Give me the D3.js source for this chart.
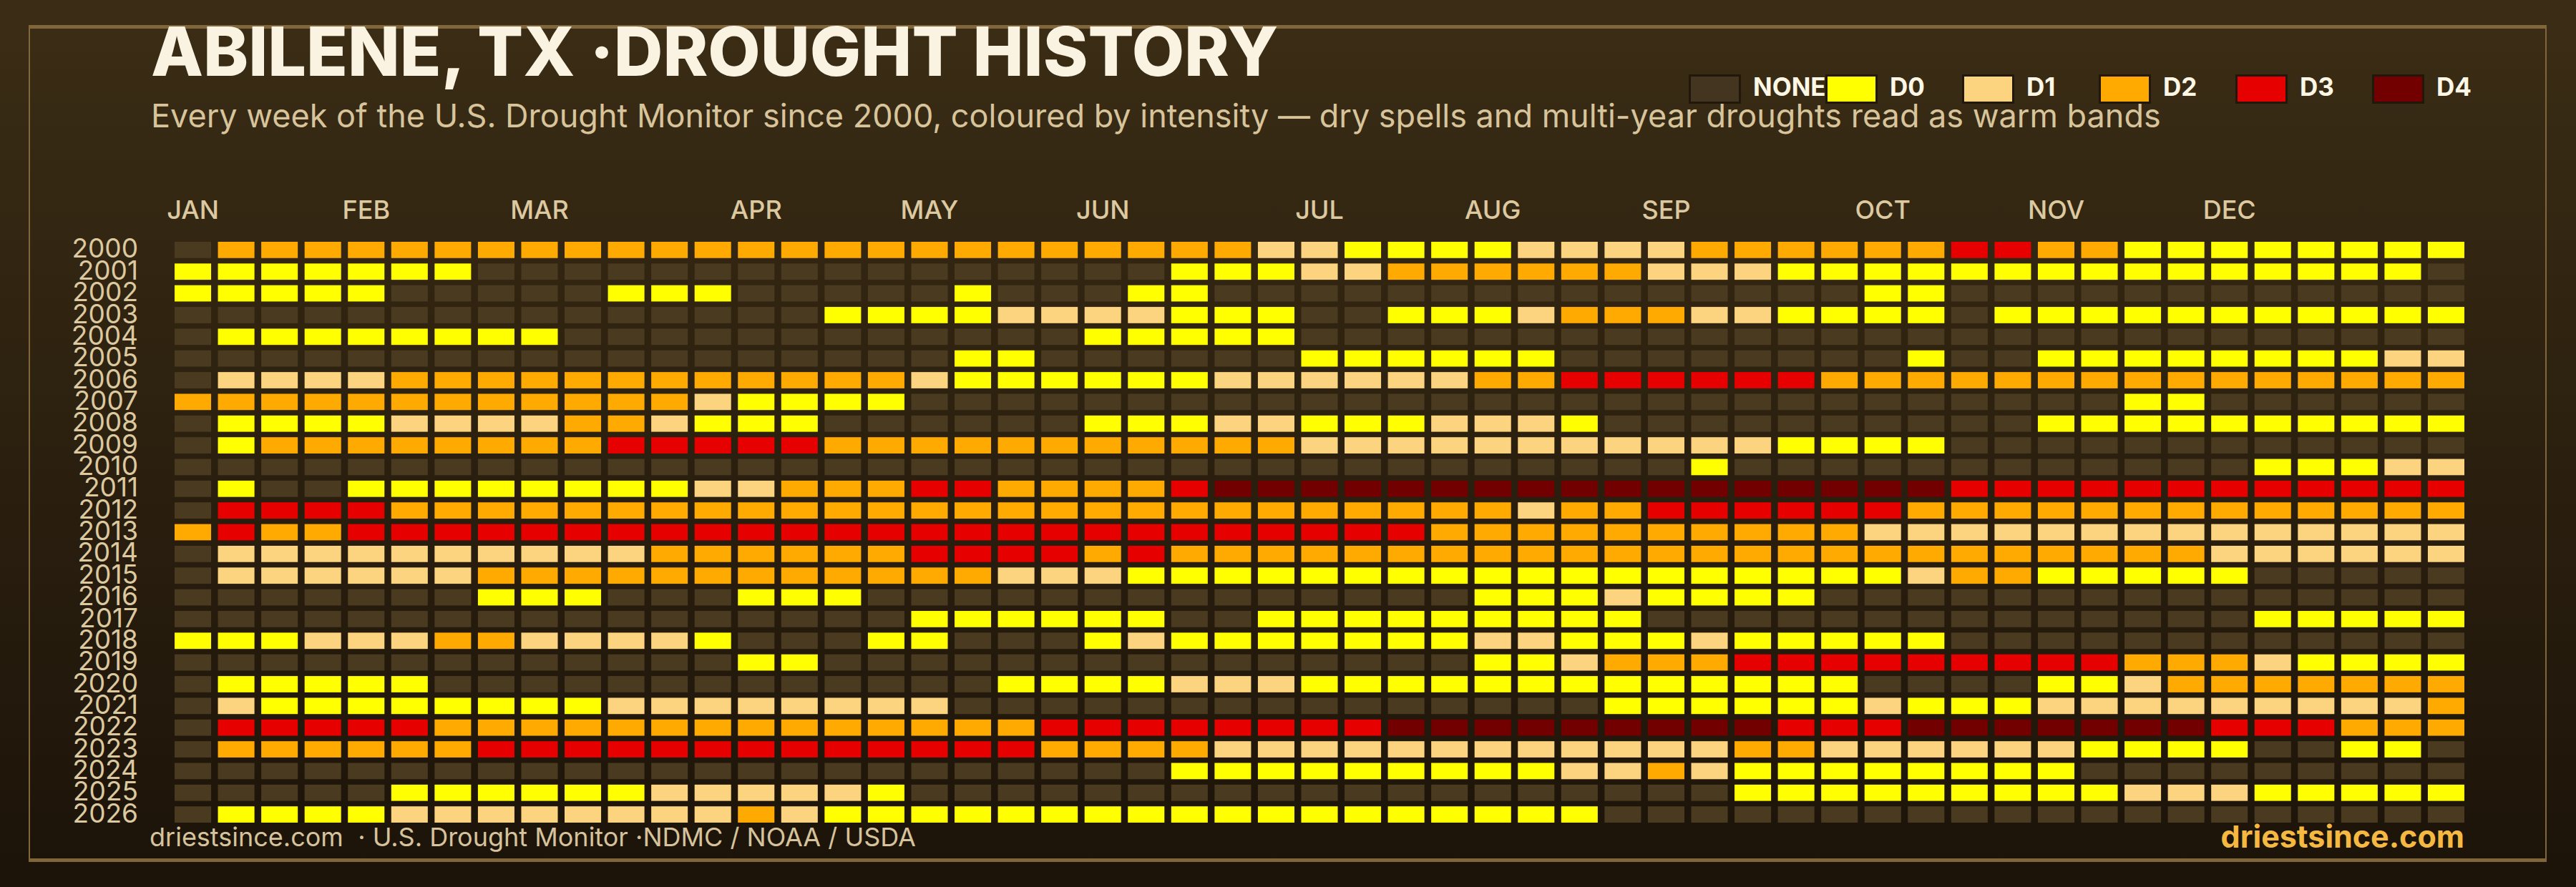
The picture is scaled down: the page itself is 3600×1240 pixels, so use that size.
<!DOCTYPE html>
<html><head><meta charset="utf-8">
<script src="https://cdn.jsdelivr.net/npm/d3@7"></script>
<style>
html,body{margin:0;padding:0;background:#2a1f0f;}
svg{display:block;}
text{font-family:Inter,"Noto Sans",sans-serif;}
</style>
</head><body>
<svg id="chart" width="3600" height="1240"></svg>
<script>
// ---------- data ----------
const years = [2000,2001,2002,2003,2004,2005,2006,2007,2008,2009,2010,2011,2012,2013,
               2014,2015,2016,2017,2018,2019,2020,2021,2022,2023,2024,2025,2026];
const monthNames = ["JAN","FEB","MAR","APR","MAY","JUN","JUL","AUG","SEP","OCT","NOV","DEC"];
const monthStartWeek = [0,4,8,13,17,21,26,30,34,39,43,47];
const levelKeys = ["NONE","D0","D1","D2","D3","D4"];
// one string per year, one character per weekly map: "." = none, 0..4 = D0..D4
const weekCodes = [
  ".222222222 2222222222 2222211000 0111122222 2332200000 000", // 2000
  "0000000... .......... ...0001122 2222111000 0000000000 00.", // 2001
  "00000..... 000.....0. ..00...... .........0 0......... ...", // 2002
  ".......... .....00001 111000..00 0122211000 0.00000000 000", // 2003
  ".00000000. .......... .00000.... .......... .......... ...", // 2004
  ".......... ........00 ......0000 00........ 0..0000000 011", // 2005
  ".111122222 2222222100 0000111111 2233333322 2222222222 222", // 2006
  "2222222222 2210000... .......... .......... .....00... ...", // 2007
  ".000011112 21000..... .000110001 110....... ...0000000 000", // 2008
  ".022222222 3333322222 2222221111 1111111000 0......... ...", // 2009
  ".......... .......... .......... .....0.... ........00 011", // 2010
  ".0..000000 0011222332 2223444444 4444444444 4333333333 333", // 2011
  ".333322222 2222222222 2222222222 2122333333 2222222222 222", // 2012
  "2322333333 3333333333 3333333332 2222222221 1111111111 111", // 2013
  ".111111111 1222222333 3232222222 2222222222 2222222111 111", // 2014
  ".111111222 2222222221 1100000000 0000000000 12200000.. ...", // 2015
  ".......000 ...000.... .......... 00010000.. .......... ...", // 2016
  ".......... .......000 000..00000 0000...... ........00 000", // 2017
  "0001112211 110...00.. .010000000 1100010000 0......... ...", // 2018
  ".......... ...00..... .......... 0012223333 3333322210 000", // 2019
  ".00000.... .........0 0001110000 000000000. ...0012222 222", // 2020
  ".100000000 11111111.. .......... ...0000001 0001111111 112", // 2021
  ".333332222 2222222222 3333333344 4444444333 4444444333 222", // 2022
  ".222222333 3333333333 2222111111 1111112211 11110000.. 00.", // 2023
  ".......... .......... ...0000000 0011210000 0000...... ...", // 2024
  ".....00000 0111110... .......... ......0000 0000011100 000", // 2025
  ".000011111 1112100000 0000000000 000....... .......... ..."  // 2026
];

// ---------- styles ----------
const palette = {NONE:"#4a3a20", D0:"#ffff00", D1:"#fcd37f", D2:"#ffaa00", D3:"#e60000", D4:"#730000"};
const tan = "#dcc9a0";

const cells = years.flatMap((yr, r) =>
  weekCodes[r].replace(/ /g, "").split("").map((c, w) => ({
    year: yr, week: w, level: c === "." ? "NONE" : "D" + c
  })));
const weekCount = weekCodes[0].replace(/ /g, "").length;

const svg = d3.select("#chart");
const defs = svg.append("defs");
const grad = defs.append("linearGradient").attr("id","bg").attr("x1",0).attr("y1",0).attr("x2",0).attr("y2",1);
grad.append("stop").attr("offset","0%").attr("stop-color","#3b2d15");
grad.append("stop").attr("offset","100%").attr("stop-color","#1c1309");
svg.append("rect").attr("width",3600).attr("height",1240).attr("fill","url(#bg)");

// frame
const frameCol = "#80663a";
svg.append("rect").attr("x",41).attr("y",37).attr("width",3517).attr("height",1166)
  .attr("fill","none").attr("stroke",frameCol).attr("stroke-width",2);
svg.append("rect").attr("x",40).attr("y",35).attr("width",3519).attr("height",5).attr("fill",frameCol);
svg.append("rect").attr("x",40).attr("y",1200).attr("width",3519).attr("height",5).attr("fill",frameCol);

// title + subtitle
svg.append("text").attr("x",211).attr("y",106)
  .attr("font-size",95).attr("font-weight",800).attr("fill","#fbf3e2")
  .text("ABILENE, TX \u00B7DROUGHT HISTORY");
svg.append("text").attr("x",211).attr("y",178)
  .attr("font-size",45).attr("fill","#d8c49b")
  .text("Every week of the U.S. Drought Monitor since 2000, coloured by intensity \u2014 dry spells and multi-year droughts read as warm bands");

// scales
const x = d3.scaleBand().domain(d3.range(weekCount)).range([244, 3444]).paddingInner(0.157);
const y = d3.scaleBand().domain(years).range([338, 1150]).paddingInner(0.25);
const color = d3.scaleOrdinal().domain(levelKeys).range(levelKeys.map(k => palette[k]));

// cells
svg.append("g").selectAll("rect").data(cells).join("rect")
  .attr("x", d => x(d.week)).attr("y", d => y(d.year))
  .attr("width", x.bandwidth()).attr("height", y.bandwidth())
  .attr("fill", d => color(d.level));

// year axis
const yAxis = svg.append("g").attr("transform","translate(193,0)")
  .call(d3.axisLeft(y).tickSize(0).tickPadding(0));
yAxis.select(".domain").remove();
yAxis.selectAll("text").attr("font-size",37).attr("font-family","Inter, sans-serif")
  .attr("fill",tan).attr("dy","0.3em");

// month axis
const xAxis = svg.append("g").attr("transform","translate(0,306)")
  .call(d3.axisTop(x).tickValues(monthStartWeek).tickFormat((d,i) => monthNames[i]).tickSize(0).tickPadding(0));
xAxis.select(".domain").remove();
xAxis.selectAll("text").attr("font-size",36).attr("font-family","Inter, sans-serif")
  .attr("font-weight",500).attr("fill",tan);

// legend
const legend = svg.append("g").selectAll("g").data(levelKeys).join("g")
  .attr("transform", (d,i) => `translate(${2360 + i*191},0)`);
legend.append("rect").attr("x",1.5).attr("y",105.5).attr("width",70).attr("height",38)
  .attr("fill", d => d === "NONE" ? "#433520" : color(d))
  .attr("stroke","#21170a").attr("stroke-width",3);
legend.append("text").attr("x",90).attr("y",134).attr("font-size",35).attr("font-weight",700)
  .attr("fill","#fff7e6").text(d => d);

// footer
svg.append("text").attr("x",209).attr("y",1183).attr("font-size",36).attr("fill","#d6c39c")
  .style("white-space","pre")
  .text("driestsince.com  \u00B7 U.S. Drought Monitor \u00B7NDMC / NOAA / USDA");
svg.append("text").attr("x",3444).attr("y",1185).attr("text-anchor","end")
  .attr("font-size",43).attr("font-weight",700).attr("fill","#f5b942")
  .text("driestsince.com");
</script>
</body></html>
